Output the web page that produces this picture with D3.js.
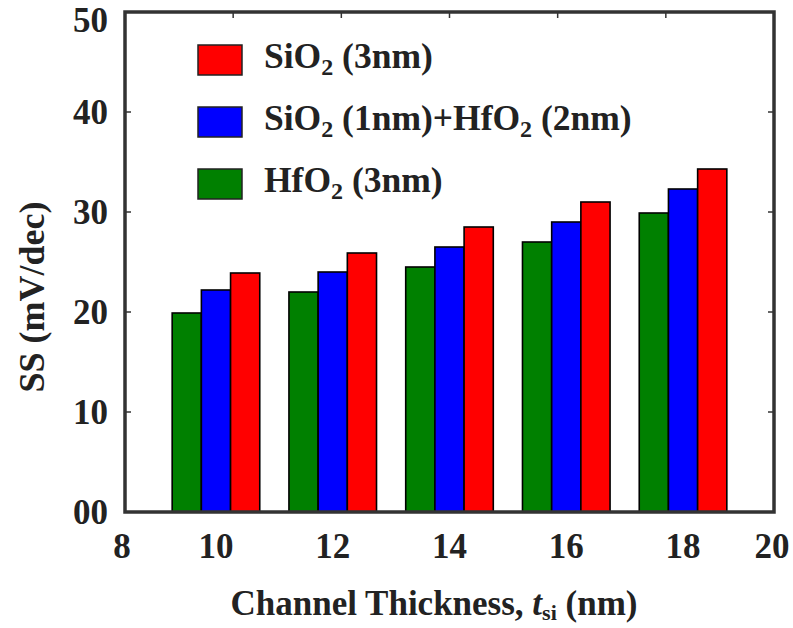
<!DOCTYPE html>
<html>
<head>
<meta charset="utf-8">
<script src="https://cdn.jsdelivr.net/npm/d3@7"></script>
<style>
  html, body { margin: 0; padding: 0; background: #fff; }
</style>
</head>
<body>
<svg id="chart" width="793" height="628" font-family="'Liberation Serif', 'Times New Roman', Times, 'DejaVu Serif', serif" font-weight="bold"></svg>
<script>
// Channel thickness groups (nm)
const thickness = [10, 12, 14, 16, 18];
// Subthreshold swing (mV/dec) per gate stack
const ssHfO2 = [19.9, 22.0, 24.5, 27.0, 29.9];
const ssMixed = [22.2, 24.0, 26.5, 29.0, 32.3];
const ssSiO2 = [23.9, 25.9, 28.5, 31.0, 34.3];
const seriesNames = ["HfO2", "Mixed", "SiO2"];
const seriesColors = ["#008000", "#0000ff", "#ff0000"];
const yTicks = [0, 10, 20, 30, 40, 50];
const yTickLabels = ["00", "10", "20", "30", "40", "50"];
const xEdgeTicks = [8, 20];

const series = [ssHfO2, ssMixed, ssSiO2];
const textColor = "#222";

const svg = d3.select("#chart");
const m = { left: 125, right: 774, top: 12, bottom: 512 };

const y = d3.scaleLinear().domain([0, 50]).range([m.bottom, m.top]);
const xLin = d3.scaleLinear().domain([8, 20]).range([m.left, m.right]);
const xGroup = d3.scaleBand().domain(thickness).range([m.left, m.right])
  .paddingInner(0.25).paddingOuter(0.404);
const xSeries = d3.scaleBand().domain(seriesNames).range([0, xGroup.bandwidth()]).padding(0);

// Bars
const groups = svg.append("g").selectAll("g").data(thickness).join("g")
  .attr("transform", d => `translate(${xGroup(d)},0)`);
groups.selectAll("rect")
  .data((d, i) => seriesNames.map((s, k) => ({ s, v: series[k][i], c: seriesColors[k] })))
  .join("rect")
  .attr("x", d => xSeries(d.s))
  .attr("y", d => y(d.v))
  .attr("width", xSeries.bandwidth())
  .attr("height", d => y(0) - y(d.v))
  .attr("fill", d => d.c)
  .attr("stroke", "#000")
  .attr("stroke-width", 1.6);

// Inward ticks on left/right and top
const tickLen = 6;
const tg = svg.append("g").attr("stroke", "#333").attr("stroke-width", 1.5);
yTicks.filter(t => t > 0 && t < 50).forEach(t => {
  tg.append("line").attr("x1", m.left).attr("x2", m.left + tickLen).attr("y1", y(t)).attr("y2", y(t));
  tg.append("line").attr("x1", m.right).attr("x2", m.right - tickLen).attr("y1", y(t)).attr("y2", y(t));
});
thickness.forEach(t => {
  tg.append("line").attr("x1", xLin(t)).attr("x2", xLin(t)).attr("y1", m.top).attr("y2", m.top + tickLen);
});

// Axes frame
svg.append("rect")
  .attr("x", m.left).attr("y", m.top)
  .attr("width", m.right - m.left).attr("height", m.bottom - m.top)
  .attr("fill", "none").attr("stroke", "#333").attr("stroke-width", 3.5);

// Y tick labels
svg.append("g").selectAll("text").data(yTicks).join("text")
  .attr("x", 108)
  .attr("y", d => Math.max(y(d), m.top + 8))
  .attr("dy", "0.35em")
  .attr("text-anchor", "end")
  .attr("font-size", 35)
  .attr("fill", textColor)
  .text((d, i) => yTickLabels[i]);

// X tick labels: axis ends plus group centres
const xLabelY = 558;
svg.append("g").selectAll("text").data(xEdgeTicks).join("text")
  .attr("x", d => xLin(d) + (d === 8 ? -3 : -2))
  .attr("y", xLabelY)
  .attr("text-anchor", "middle")
  .attr("font-size", 35)
  .attr("fill", textColor)
  .text(d => d);
svg.append("g").selectAll("text").data(thickness).join("text")
  .attr("x", d => xGroup(d) + xGroup.bandwidth() / 2)
  .attr("y", xLabelY)
  .attr("text-anchor", "middle")
  .attr("font-size", 35)
  .attr("fill", textColor)
  .text(d => d);

// Axis titles
svg.append("text")
  .attr("transform", `translate(44, ${(m.top + m.bottom) / 2 + 35}) rotate(-90)`)
  .attr("text-anchor", "middle")
  .attr("font-size", 36)
  .attr("fill", textColor)
  .text("SS (mV/dec)");

const xt = svg.append("text")
  .attr("x", 434).attr("y", 615)
  .attr("text-anchor", "middle")
  .attr("font-size", 35)
  .attr("fill", textColor);
xt.append("tspan").text("Channel Thickness, ");
xt.append("tspan").attr("font-style", "italic").text("t");
xt.append("tspan").attr("font-size", 22).attr("dy", 5).text("si");
xt.append("tspan").attr("dy", -5).text(" (nm)");

// Legend
const legendItems = [
  { color: "#ff0000", parts: [["SiO", 0], ["2", 1], [" (3nm)", 0]] },
  { color: "#0000ff", parts: [["SiO", 0], ["2", 1], [" (1nm)+HfO", 0], ["2", 1], [" (2nm)", 0]] },
  { color: "#008000", parts: [["HfO", 0], ["2", 1], [" (3nm)", 0]] }
];
const lg = svg.append("g");
legendItems.forEach((it, i) => {
  const yy = 45 + i * 62;
  lg.append("rect").attr("x", 198).attr("y", yy).attr("width", 44).attr("height", 30)
    .attr("fill", it.color).attr("stroke", "#222").attr("stroke-width", 1.5);
  const t = lg.append("text").attr("x", 264).attr("y", yy + 23).attr("font-size", 35.5).attr("fill", textColor);
  let sub = false;
  it.parts.forEach(([s, isSub]) => {
    const ts = t.append("tspan").text(s);
    if (isSub && !sub) { ts.attr("font-size", 24).attr("dy", 7); sub = true; }
    else if (!isSub && sub) { ts.attr("dy", -7); sub = false; }
  });
});
</script>
</body>
</html>
